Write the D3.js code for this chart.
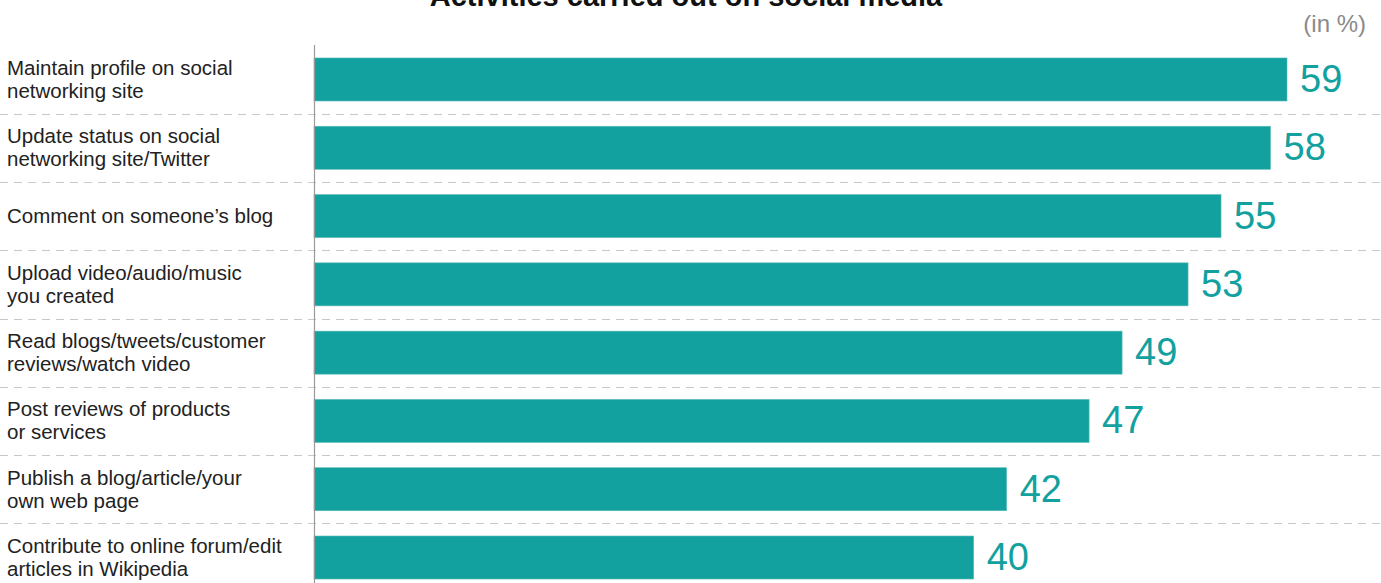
<!DOCTYPE html>
<html><head><meta charset="utf-8">
<script src="https://cdn.jsdelivr.net/npm/d3@7"></script>
<style>body{margin:0;background:#fff;}svg{display:block;font-family:"Liberation Sans",Arial,Helvetica,sans-serif;}</style>
</head><body>
<svg id="c" width="1381" height="583"></svg>
<script>
const categories = [
  ["Maintain profile on social","networking site"],
  ["Update status on social","networking site/Twitter"],
  ["Comment on someone\u2019s blog"],
  ["Upload video/audio/music","you created"],
  ["Read blogs/tweets/customer","reviews/watch video"],
  ["Post reviews of products","or services"],
  ["Publish a blog/article/your","own web page"],
  ["Contribute to online forum/edit","articles in Wikipedia"]
];
const values = [59, 58, 55, 53, 49, 47, 42, 40];
const title = "Activities carried out on social media";
const unitLabel = "(in %)";

const svg = d3.select("#c");
const W = 1381, H = 583;
const x0 = 314;
const x = d3.scaleLinear().domain([0, 59]).range([x0, 1287]);
const idx = d3.range(values.length);
const y = d3.scaleBand().domain(idx).range([45, 592]).paddingInner(0.37).paddingOuter(0.19);
const teal = "#12a19f";

// separators
svg.selectAll("line.sep").data(idx.slice(1)).join("line")
  .attr("x1", 0).attr("x2", W)
  .attr("y1", d => Math.round(y(d) - y.step()*y.paddingInner()/2) + 0.5)
  .attr("y2", d => Math.round(y(d) - y.step()*y.paddingInner()/2) + 0.5)
  .attr("stroke", "#c8c8c8").attr("stroke-width", 1).attr("stroke-dasharray", "8,6");

// bars
svg.selectAll("rect.bar").data(idx).join("rect")
  .attr("x", x0).attr("y", d => y(d))
  .attr("width", d => x(values[d]) - x0).attr("height", y.bandwidth())
  .attr("fill", teal).attr("stroke", "#5dbcb9").attr("stroke-width", 0.6);

// axis line
svg.append("line").attr("x1", x0 + 0.5).attr("x2", x0 + 0.5).attr("y1", 45).attr("y2", H)
  .attr("stroke", "#9a9a9a").attr("stroke-width", 1.2);

// value labels
svg.selectAll("text.val").data(idx).join("text")
  .attr("x", d => x(values[d]) + 13)
  .attr("y", d => y(d) + y.bandwidth()/2 + 12.5)
  .attr("fill", teal).attr("font-size", 38)
  .text(d => values[d]);

// category labels
const cl = svg.selectAll("text.cat").data(idx).join("text")
  .attr("fill", "#222").attr("font-size", 20.5);
cl.each(function(d){
  const lines = categories[d];
  const t = d3.select(this);
  const cy = y(d) + y.bandwidth()/2;
  const lh = 23;
  const start = cy - (lines.length - 1) * lh / 2 + 7;
  lines.forEach((s, i) => t.append("tspan").attr("x", 7).attr("y", start + i*lh).text(s));
});

// title
svg.append("text").attr("x", 686).attr("y", 6).attr("text-anchor", "middle")
  .attr("font-size", 29).attr("font-weight", "bold").attr("fill", "#111").text(title);
svg.append("text").attr("x", 1366).attr("y", 32).attr("text-anchor", "end")
  .attr("font-size", 24).attr("fill", "#8a8a8a").text(unitLabel);
</script>
</body></html>
